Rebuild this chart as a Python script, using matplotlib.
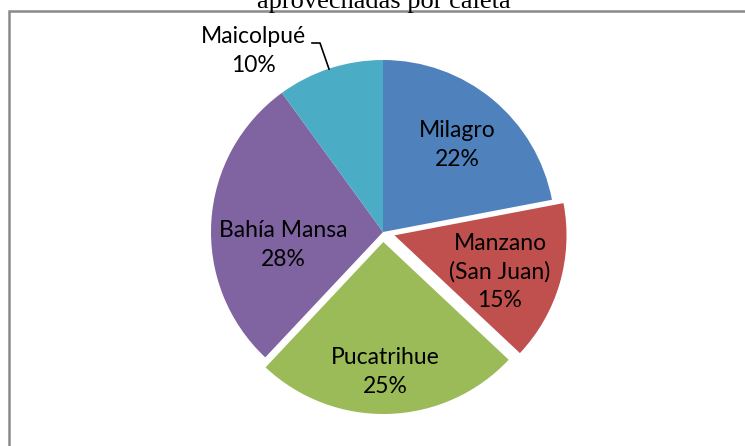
import matplotlib
matplotlib.use("Agg")
import matplotlib.pyplot as plt
from matplotlib.patches import Rectangle

# data
names = ["Milagro", "Manzano\n(San Juan)", "Pucatrihue", "Bahía Mansa", "Maicolpué"]
shares = [22, 15, 25, 28, 10]
explode_px = [0, 12, 10, 0, 0]
colors = ["#4F81BD", "#C0504D", "#9BBB59", "#8064A2", "#4BACC6"]
title_tail = "aprovechadas por caleta"

W, H = 745, 446
fig = plt.figure(figsize=(W / 100, H / 100), dpi=100)
ax = fig.add_axes([0, 0, 1, 1])
ax.set_xlim(0, W)
ax.set_ylim(0, H)
ax.set_aspect("equal")
ax.axis("off")

# chart border (right and bottom edges fall outside the picture)
ax.add_patch(Rectangle((8.5, -10), W + 10, H - 11 + 10, fill=False,
                       edgecolor="#898989", linewidth=1.8))

# title, cut at the top like the reference
ax.text(384, H - 8, title_tail, ha="center", va="baseline",
        family="Liberation Serif", fontsize=19, color="black")

cx, cy, r = 383, H - 232, 172
# explode is in data units here since the pie is drawn in pixel coordinates
wedges, _ = ax.pie(shares, radius=r, center=(cx, cy), colors=colors,
                   startangle=90, counterclock=False,
                   explode=explode_px,
                   wedgeprops=dict(linewidth=0))
ax.set_xlim(0, W)
ax.set_ylim(0, H)

font = dict(family="Lato", fontsize=16.5, color="black", linespacing=1.42)
label_pos = {
    0: (457, 145),
    1: (500, 272),
    2: (385, 372),
    3: (283, 245),
}
for i, (x, y) in label_pos.items():
    ax.text(x, H - y, f"{names[i]}\n{shares[i]}%", ha="center", va="center", **font)

# Maicolpué label outside with leader line
ax.text(253, H - 51, f"{names[4]}\n{shares[4]}%", ha="center", va="center", **font)
ax.plot([312, 320, 329], [H - 43, H - 43, H - 69], color="black", linewidth=1.2)

fig.savefig("out.png", dpi=100)
